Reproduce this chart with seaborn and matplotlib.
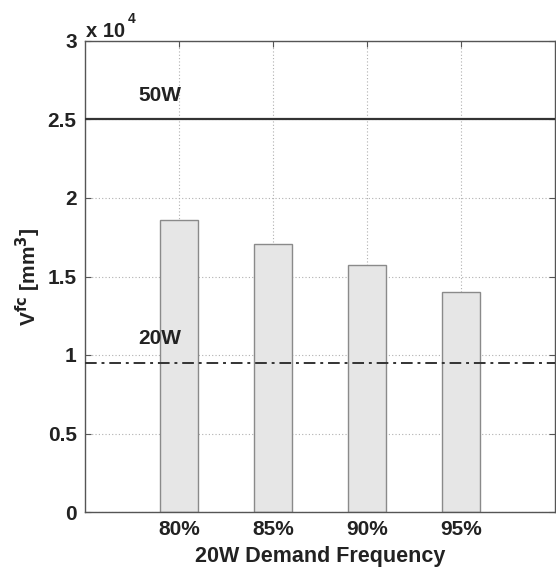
import matplotlib
matplotlib.use("Agg")
import matplotlib.pyplot as plt
import seaborn as sns
import pandas as pd
from matplotlib.ticker import FuncFormatter, FixedLocator

categories = ["80%", "85%", "90%", "95%"]
volumes = [18600, 17100, 15730, 14030]
line_50w = 25000
line_20w = 9470
line_labels = ["50W", "20W"]
y_ticks = [0, 5000, 10000, 15000, 20000, 25000, 30000]

sns.set_theme(style="white")
plt.rcParams['font.family'] = ['Liberation Sans', 'DejaVu Sans']
plt.rcParams['font.weight'] = 'bold'
plt.rcParams['mathtext.default'] = 'bf'

df = pd.DataFrame({"freq": categories, "vol": volumes})

fig = plt.figure(figsize=(5.56, 5.67), dpi=100)
ax = fig.add_axes([85/556, 1-512/567, 1-85/556-1/556, (512-41)/567])

sns.barplot(data=df, x="freq", y="vol", ax=ax, color="#e6e6e6",
            edgecolor="#8a8a8a", linewidth=1.0, width=0.41, saturation=1)

ax.set_axisbelow(True)
ax.grid(True, axis='both', linestyle=(0, (1, 2)), color="#b0b0b0", linewidth=0.8)
ax.xaxis.grid(True, linestyle=(0, (1, 2)), color="#b0b0b0", linewidth=0.8)

ax.axhline(line_50w, color="#333333", linewidth=1.6, zorder=5)
ax.axhline(line_20w, color="#333333", linewidth=1.4, linestyle=(0, (6, 2.5, 1.5, 2.5)), zorder=5)
ax.text(-0.2, line_50w + 1550, line_labels[0], fontsize=15, fontweight='bold', ha='center', va='center', color="#222222")
ax.text(-0.2, line_20w + 1550, line_labels[1], fontsize=15, fontweight='bold', ha='center', va='center', color="#222222")

ax.set_xlim(-1, 4)
ax.set_ylim(0, 30000)
ax.yaxis.set_major_locator(FixedLocator(y_ticks))
ax.yaxis.set_major_formatter(FuncFormatter(lambda v, p: f"{v/1e4:g}"))

for side in ["left", "right", "top", "bottom"]:
    ax.spines[side].set_visible(True)
    ax.spines[side].set_color("#555555")
    ax.spines[side].set_linewidth(1.0)

ax.tick_params(axis='both', which='major', direction='in', length=4, width=0.8,
               color="#555555", labelsize=15, top=True, right=True,
               left=True, bottom=True, pad=6, labelcolor="#222222")
for lbl in ax.get_xticklabels() + ax.get_yticklabels():
    lbl.set_fontweight('bold')

ax.set_xlabel("20W Demand Frequency", fontsize=15.5, fontweight='bold', labelpad=5, color="#222222")
ax.set_ylabel(r"V$^{\mathbf{fc}}$ [mm$^{\mathbf{3}}$]", fontsize=15, fontweight='bold', labelpad=3, color="#222222")

fig.text(86/556, 1-37/567, "x 10", fontsize=14.5, fontweight='bold', ha='left', va='baseline', color="#222222")
fig.text(128/556, 1-19/567, "4", fontsize=10, fontweight='bold', ha='left', va='center', color="#222222")

fig.savefig("out.png", dpi=100)
